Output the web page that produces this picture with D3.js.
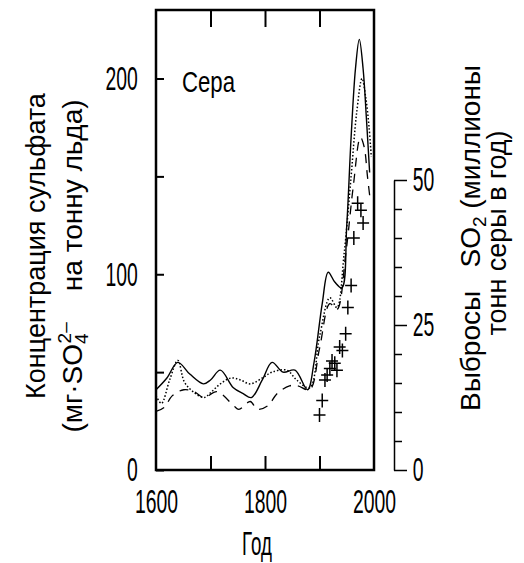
<!DOCTYPE html>
<html>
<head>
<meta charset="utf-8">
<script src="https://cdn.jsdelivr.net/npm/d3@7"></script>
<style>
  body { margin: 0; background: #fff; }
  svg { display: block; font-family: "Liberation Sans", Arial, sans-serif; }
</style>
</head>
<body>
<script>
// sulfate concentration in ice cores, three records
var solidYears = [1600,1620,1640,1662,1687,1700,1718,1742,1760,1775,1795,1813,1833,1855,1878,1890,1905,1916,1928,1941,1950,1958,1966,1973,1980,1986,1992];
var solidVals  = [41,47,55,49,44,46,51,42,39,37,46,55,50,51,41,55,85,101,96,93,125,170,205,220,205,180,152];

var dottedYears = [1600,1610,1625,1640,1652,1668,1688,1702,1718,1738,1755,1773,1795,1813,1840,1858,1882,1900,1919,1932,1945,1958,1968,1978,1985,1991,1995];
var dottedVals  = [38,34,46,56,45,40,37,40,44,47,46,44,47,50,51,46,42,68,88,83,110,150,182,200,190,175,160];

var dashedYears = [1600,1615,1630,1651,1670,1688,1712,1742,1752,1773,1786,1806,1822,1845,1860,1882,1900,1919,1932,1948,1962,1975,1982,1988,1993];
var dashedVals  = [30,32,38,41,40,37,40,33,31,35,31,33,39,43,43,41,62,85,82,110,145,170,165,150,138];

// SO2 emissions (right axis)
var emisYears = [1900,1905,1910,1914,1919,1923,1928,1932,1937,1942,1948,1952,1958,1963,1970,1976,1980];
var emisVals  = [9.5,12,15.5,16.4,17.5,18.8,18.4,17.2,21.2,20.6,23.5,28,31.8,40,46,44.8,42.6];

var xTicks = [1600,1700,1800,1900,2000];
var xLabels = [1600,1800,2000];
var leftTicks = [0,50,100,150,200];
var leftLabels = [0,100,200];
var rightTicks = d3.range(0,51,5);
var rightLabels = [0,25,50];

var W = 524, H = 563;
var svg = d3.select('body').append('svg').attr('width', W).attr('height', H);

var x = d3.scaleLinear().domain([1600,2000]).range([156,374]);
var yL = d3.scaleLinear().domain([0,235]).range([470,10]);
var yR = d3.scaleLinear().domain([0,50]).range([470,180]);

var narrow = 'scale(0.57,1)';
var numSize = 34;

// bottom axis (ticks inward)
var gb = svg.append('g').attr('transform','translate(0,470)')
  .call(d3.axisBottom(x).tickValues(xTicks).tickSize(-14).tickPadding(19)
    .tickFormat(function(d){ return xLabels.indexOf(d) >= 0 ? d : ''; }));
gb.select('.domain').remove();
gb.selectAll('.tick').filter(function(d){ return d === 1600 || d === 2000; }).select('line').remove();
gb.selectAll('text').attr('font-size',numSize).attr('font-family','Liberation Sans').attr('transform',narrow).attr('fill','#000');
gb.selectAll('line').attr('stroke-width',2);

// top ticks
var gt = svg.append('g').attr('transform','translate(0,10)')
  .call(d3.axisTop(x).tickValues([1700,1800,1900]).tickSize(-17).tickFormat(''));
gt.select('.domain').remove();
gt.selectAll('line').attr('stroke-width',2);

// left axis
var gl = svg.append('g').attr('transform','translate(156,0)')
  .call(d3.axisLeft(yL).tickValues(leftTicks).tickSize(-8).tickPadding(32)
    .tickFormat(function(d){ return leftLabels.indexOf(d) >= 0 ? d : ''; }));
gl.select('.domain').remove();
gl.selectAll('text').attr('font-size',numSize).attr('font-family','Liberation Sans').attr('transform',narrow).attr('fill','#000');
gl.selectAll('line').attr('stroke-width',2);

// frame
svg.append('rect').attr('x',x(1600)).attr('y',yL(235)).attr('width',x(2000)-x(1600)).attr('height',yL(0)-yL(235))
  .attr('fill','none').attr('stroke','#000').attr('stroke-width',2.5);

// right axis (emissions)
var gr = svg.append('g').attr('transform','translate(394,0)')
  .call(d3.axisRight(yR).tickValues(rightTicks).tickSize(8).tickSizeOuter(0).tickPadding(25)
    .tickFormat(function(d){ return rightLabels.indexOf(d) >= 0 ? d : ''; }));
gr.select('.domain').attr('stroke-width',1.5);
gr.selectAll('.tick line').attr('stroke-width',1.5)
  .attr('x2', function(d){ return rightLabels.indexOf(d) >= 0 ? 13 : 8; });
gr.selectAll('text').attr('font-size',numSize).attr('font-family','Liberation Sans').attr('transform',narrow).attr('fill','#000');

// curves
var line = d3.line().x(function(d){ return x(d[0]); }).y(function(d){ return yL(d[1]); })
  .curve(d3.curveCatmullRom.alpha(0.5));

svg.append('path').datum(d3.zip(dashedYears, dashedVals)).attr('d', line)
  .attr('fill','none').attr('stroke','#000').attr('stroke-width',1.3).attr('stroke-dasharray','9,7');
svg.append('path').datum(d3.zip(dottedYears, dottedVals)).attr('d', line)
  .attr('fill','none').attr('stroke','#000').attr('stroke-width',1.5).attr('stroke-dasharray','1.5,2');
svg.append('path').datum(d3.zip(solidYears, solidVals)).attr('d', line)
  .attr('fill','none').attr('stroke','#000').attr('stroke-width',1.4);

// emission crosses
svg.append('g').selectAll('path').data(d3.zip(emisYears, emisVals)).join('path')
  .attr('transform', function(d){ return 'translate(' + x(d[0]) + ',' + yR(d[1]) + ')'; })
  .attr('d','M-6,0H6M0,-7V7').attr('stroke','#000').attr('stroke-width',1.5).attr('fill','none');

// panel label
svg.append('text').attr('transform','translate(182,92) scale(0.74,1)')
  .attr('font-size',30).text('Сера');

// x title
svg.append('text').attr('transform','translate(257,555) scale(0.55,1)')
  .attr('text-anchor','middle').attr('font-size',34).text('Год');

// left title
svg.append('text').attr('transform','translate(45,246) rotate(-90)')
  .attr('text-anchor','middle').attr('font-size',27).text('Концентрация сульфата');
var t2 = svg.append('text').attr('transform','translate(82,266) rotate(-90)')
  .attr('text-anchor','middle').attr('font-size',28);
t2.append('tspan').text('(мг·SO');
t2.append('tspan').attr('font-size',19).attr('dy',6).text('4');
t2.append('tspan').attr('font-size',19).attr('dy',-17).attr('dx',-10).text('2–');
t2.append('tspan').attr('dy',11).text('\u00a0\u00a0\u00a0\u00a0на тонну льда)');

// right title
var t3 = svg.append('text').attr('transform','translate(480,238) rotate(-90)')
  .attr('text-anchor','middle').attr('font-size',28);
t3.append('tspan').text('Выбросы\u00a0\u00a0\u00a0SO');
t3.append('tspan').attr('font-size',19).attr('dy',6).text('2');
t3.append('tspan').attr('dy',-6).text(' (миллионы');
svg.append('text').attr('transform','translate(506,233) rotate(-90)')
  .attr('text-anchor','middle').attr('font-size',27).text('тонн серы в год)');
</script>
</body>
</html>
